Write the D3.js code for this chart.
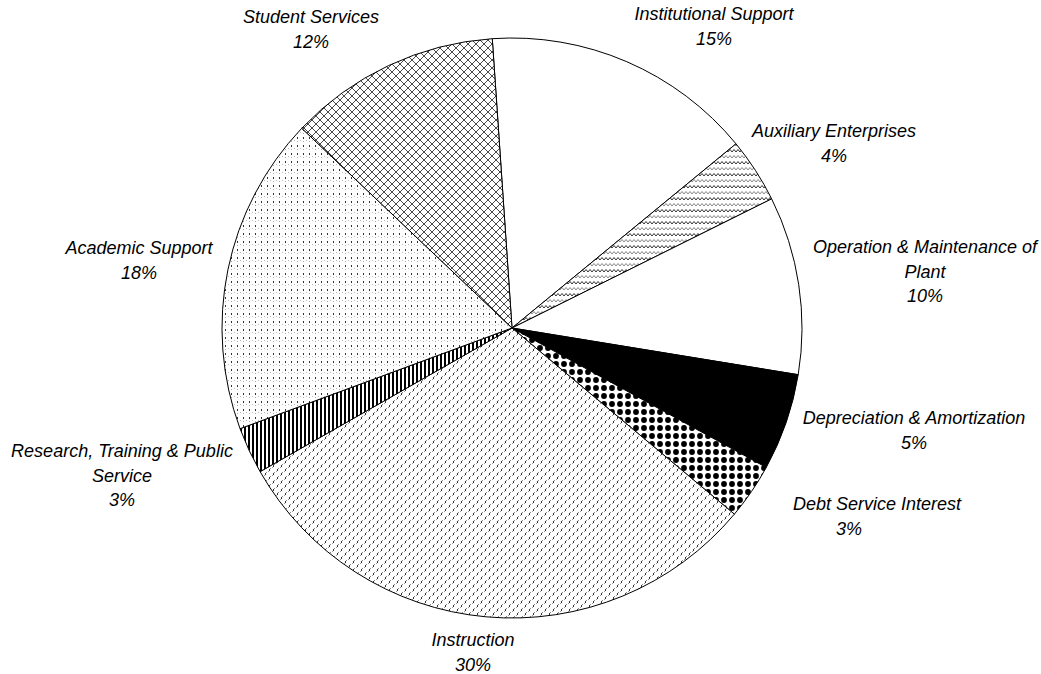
<!DOCTYPE html>
<html>
<head>
<meta charset="utf-8">
<script src="https://cdn.jsdelivr.net/npm/d3@7"></script>
<style>
  html, body { margin: 0; padding: 0; background: #fff; }
  svg { display: block; }
  text { font-family: "Liberation Sans", Arial, sans-serif; font-style: italic; font-size: 18px; fill: #000; }
</style>
</head>
<body>
<svg id="chart" width="1041" height="674"></svg>
<script>
// ---- data (clockwise from the top) ----
const categories = [
  "Institutional Support",
  "Auxiliary Enterprises",
  "Operation & Maintenance of Plant",
  "Depreciation & Amortization",
  "Debt Service Interest",
  "Instruction",
  "Research, Training & Public Service",
  "Academic Support",
  "Student Services"
];
const values = [15.1, 3.6, 9.9, 5.4, 3.1, 30.6, 2.6, 17.7, 11.8];
const percentLabels = ["15%", "4%", "10%", "5%", "3%", "30%", "3%", "18%", "12%"];
const labelLines = [
  ["Institutional Support"],
  ["Auxiliary Enterprises"],
  ["Operation & Maintenance of", "Plant"],
  ["Depreciation & Amortization"],
  ["Debt Service Interest"],
  ["Instruction"],
  ["Research, Training & Public", "Service"],
  ["Academic Support"],
  ["Student Services"]
];
const fills = ["white", "url(#zigzag)", "white", "black", "url(#bigdots)", "url(#weave)", "url(#vstripes)", "url(#dotcols)", "url(#trellis)"];

// ---- layout ----
const W = 1041, H = 674;
const cx = 512, cy = 328, R = 290;
const startDeg = -3.9;
// label block centres (x, baseline of first line)
const labelPos = [
  [714, 20], [834, 137], [925, 253], [914, 424], [877, 510],
  [473, 646], [122, 457], [139, 254], [311, 23]
];
const pctShift = [0, 0, 0, 0, -28, 0, 0, 0, 0];
const lineH = 24.5;

const svg = d3.select("#chart");
const defs = svg.append("defs");

// trellis (diamond lattice)
let p = defs.append("pattern").attr("id", "trellis").attr("patternUnits", "userSpaceOnUse").attr("width", 8).attr("height", 8);
p.append("rect").attr("width", 8).attr("height", 8).attr("fill", "white");
p.append("path").attr("d", "M0,0 L8,8 M8,0 L0,8 M-1,7 L1,9 M7,-1 L9,1 M-1,1 L1,-1 M7,9 L9,7").attr("stroke", "#4a4a4a").attr("stroke-width", 1).attr("fill", "none");

// zigzag
p = defs.append("pattern").attr("id", "zigzag").attr("patternUnits", "userSpaceOnUse").attr("width", 4).attr("height", 12);
p.append("rect").attr("width", 4).attr("height", 12).attr("fill", "white");
p.append("path").attr("d", "M0,4 L2,1.5 L4,4").attr("stroke", "#333").attr("stroke-width", 1).attr("fill", "none");
p.append("path").attr("d", "M0,10 L2,7.5 L4,10").attr("stroke", "#888").attr("stroke-width", 1).attr("fill", "none");

// dotted columns (academic support)
p = defs.append("pattern").attr("id", "dotcols").attr("patternUnits", "userSpaceOnUse").attr("width", 6).attr("height", 8);
p.append("rect").attr("width", 6).attr("height", 8).attr("fill", "white");
p.append("rect").attr("x", 1).attr("y", 1).attr("width", 1).attr("height", 2).attr("fill", "#333");
p.append("rect").attr("x", 1).attr("y", 5).attr("width", 1).attr("height", 1).attr("fill", "#aaa");
p.append("rect").attr("x", 4).attr("y", 4).attr("width", 1).attr("height", 1).attr("fill", "#bbb");

// weave (instruction)
p = defs.append("pattern").attr("id", "weave").attr("patternUnits", "userSpaceOnUse").attr("width", 8).attr("height", 8);
p.append("rect").attr("width", 8).attr("height", 8).attr("fill", "white");
[[1, 1], [5, 5]].forEach(([x, y]) => {
  p.append("rect").attr("x", x).attr("y", y).attr("width", 1).attr("height", 2).attr("fill", "#333");
  p.append("rect").attr("x", x + 1).attr("y", y - 1).attr("width", 1).attr("height", 1).attr("fill", "#888");
  p.append("rect").attr("x", x - 1).attr("y", y + 2).attr("width", 1).attr("height", 1).attr("fill", "#999");
});

// big dots (debt service)
p = defs.append("pattern").attr("id", "bigdots").attr("patternUnits", "userSpaceOnUse").attr("width", 8).attr("height", 8);
p.append("rect").attr("width", 8).attr("height", 8).attr("fill", "white");
p.append("circle").attr("cx", 4).attr("cy", 4).attr("r", 2.9).attr("fill", "black");

// vertical stripes (research)
p = defs.append("pattern").attr("id", "vstripes").attr("patternUnits", "userSpaceOnUse").attr("width", 4).attr("height", 4);
p.append("rect").attr("width", 4).attr("height", 4).attr("fill", "white");
p.append("rect").attr("width", 2).attr("height", 4).attr("fill", "black");

// ---- pie ----
const start = startDeg * Math.PI / 180;
const pie = d3.pie().sort(null).startAngle(start).endAngle(start + 2 * Math.PI);
const arc = d3.arc().innerRadius(0).outerRadius(R);
const arcs = pie(values);

const g = svg.append("g").attr("transform", `translate(${cx},${cy})`);
g.selectAll("path.slice").data(arcs).join("path")
  .attr("class", "slice")
  .attr("d", arc)
  .attr("fill", (d, i) => fills[i])
  .attr("stroke", "black")
  .attr("stroke-width", 1)
  .attr("stroke-linejoin", "round");

// ---- labels ----
const lg = svg.append("g");
categories.forEach((c, i) => {
  const [x, y] = labelPos[i];
  const t = lg.append("text").attr("text-anchor", "middle");
  const lines = labelLines[i];
  lines.forEach((ln, k) => {
    t.append("tspan").attr("x", x).attr("y", y + k * lineH).text(ln);
  });
  t.append("tspan").attr("x", x + pctShift[i]).attr("y", y + lines.length * lineH).text(percentLabels[i]);
});
</script>
</body>
</html>
